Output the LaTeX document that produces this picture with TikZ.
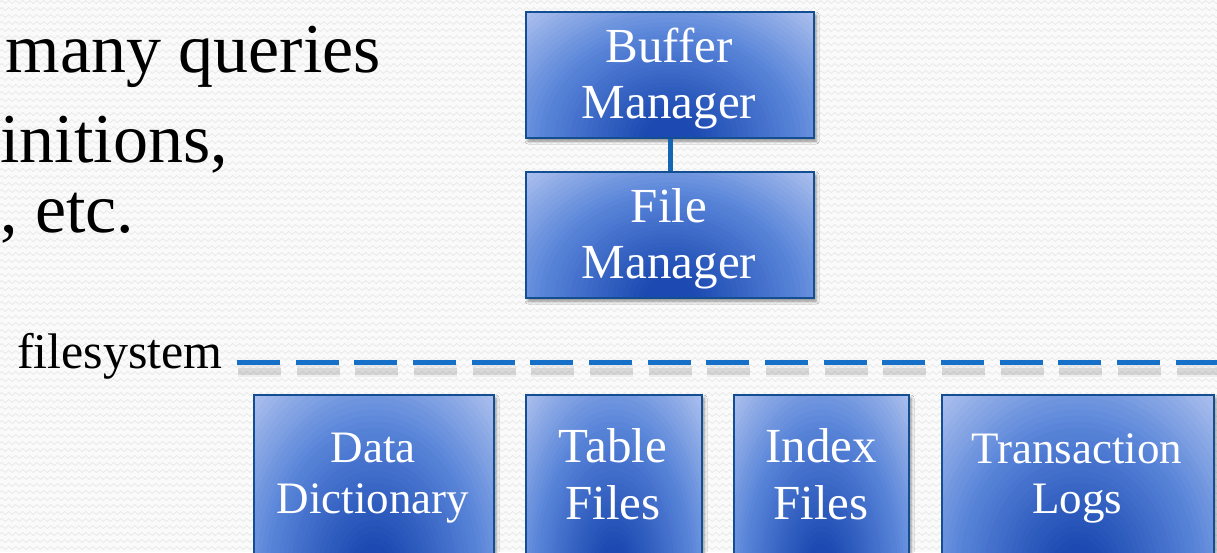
\documentclass[tikz,border=0pt]{standalone}
\usepackage{fontspec}
\setmainfont{Liberation Serif}
\usetikzlibrary{shadows.blur,decorations.pathmorphing,calc}

\definecolor{bxlight}{RGB}{172,192,238}
\definecolor{bxmid}{RGB}{88,132,216}
\definecolor{bxdark}{RGB}{28,74,178}
\definecolor{bxedge}{RGB}{20,78,146}
\definecolor{linkblue}{RGB}{22,112,200}
\definecolor{paper}{RGB}{250,250,250}
\definecolor{weave}{RGB}{232,232,232}

% glow of a storage box: nested ellipses around the bottom middle,
% dark in the centre and light towards the top corners
% #1, #2 = half axes of the outermost ellipse
\newcommand{\glowfill}[2]{%
  \fill[bxlight] (path picture bounding box.south west) rectangle (path picture bounding box.north east);
  \foreach \k in {44,43,...,1}{%
    \pgfmathsetmacro{\glowt}{\k/44}%
    \pgfmathtruncatemacro{\glowp}{min(100,max(0,(\glowt-0.56)/0.36*100))}%
    \pgfmathtruncatemacro{\glowq}{min(100,max(0,(\glowt-0.12)/0.44*100))}%
    \ifdim\glowt pt>0.56pt\relax
      \colorlet{glowtmp}{bxlight!\glowp!bxmid}%
    \else
      \colorlet{glowtmp}{bxmid!\glowq!bxdark}%
    \fi
    \fill[glowtmp] (path picture bounding box.south) ellipse ({\glowt*#1} and {\glowt*#2});
  }}

\tikzset{
  tier/.style 2 args={rectangle, draw=bxedge, line width=2.2pt, inner sep=0pt,
    anchor=north west,
    blur shadow={shadow xshift=2pt, shadow yshift=-3pt, shadow blur radius=3pt, shadow opacity=45},
    path picture={\glowfill{#1}{#2}}},
  tiertext/.style={text=white, inner sep=0pt, anchor=base},
  bodytext/.style={text=black, inner sep=0pt, font=\fontsize{70}{80}\selectfont},
  link/.style={draw=linkblue!90!black, line width=5pt},
  fsrule/.style={draw=linkblue, line width=5pt, dash pattern=on 43pt off 15.67pt},
}

\newcommand{\twolines}[4]{\fontsize{#1}{#2}\selectfont\begin{tabular}[t]{@{}c@{}}#3\\#4\end{tabular}}

\begin{document}
\begin{tikzpicture}[x=1pt, y=-1pt]
  \useasboundingbox (0,0) rectangle (1217,552);
  \clip (0,0) rectangle (1217,552);

  % woven paper background
  \fill[paper] (0,0) rectangle (1217,552);
  \foreach \r in {2,9,...,560}
    \draw[weave, line width=0.7pt, decorate,
          decoration={zigzag, segment length=7pt, amplitude=1.6pt}] (-7,\r) -- (1230,\r);

  % bullet text running in from the left
  \node[bodytext, anchor=base east] (q1) at (381,72) {many queries};
  \node[bodytext, anchor=base east] (q2) at (228,162) {finitions,};
  \node[bodytext, anchor=base west] (q3) at (0,232) {, etc.};

  % manager boxes
  \node[tier={230}{189}, minimum width=288pt, minimum height=126pt] (bm) at (525,11) {};
  \node[tier={230}{189}, minimum width=288pt, minimum height=126pt] (fm) at (525,171) {};
  \draw[link] (bm.south) -- (fm.north);

  \node[tiertext] (bm-t) at (669,62) {\twolines{49}{56}{Buffer}{Manager}};
  \node[tiertext] (fm-t) at (669,222) {\twolines{49}{56}{File}{Manager}};

  % filesystem boundary
  \node[bodytext, anchor=base east, font=\fontsize{50}{60}\selectfont] (fs) at (223,368) {filesystem};
  \coordinate (fs-a) at (237,362);
  \coordinate (fs-b) at (1240,362);
  \draw[fsrule, draw=black, opacity=0.05, line width=12pt] ($(fs-a)+(1,9)$) -- ($(fs-b)+(1,9)$);
  \draw[fsrule, draw=black, opacity=0.09, line width=7pt] ($(fs-a)+(1,9)$) -- ($(fs-b)+(1,9)$);
  \draw[fsrule] (fs-a) -- (fs-b);

  % files stored below the boundary
  \node[tier={192}{270}, minimum width=240pt, minimum height=180pt] (dd) at (253,394) {};
  \node[tier={141}{270}, minimum width=176pt, minimum height=180pt] (tf) at (525,394) {};
  \node[tier={140}{270}, minimum width=175pt, minimum height=180pt] (ix) at (733,394) {};
  \node[tier={218}{270}, minimum width=272pt, minimum height=180pt] (tl) at (941,394) {};

  \node[tiertext] (dd-t) at (373,462) {\twolines{45}{51}{Data}{Dictionary}};
  \node[tiertext] (tf-t) at (613,462) {\twolines{49}{57}{Table}{Files}};
  \node[tiertext] (ix-t) at (821,462) {\twolines{49}{57}{Index}{Files}};
  \node[tiertext] (tl-t) at (1077,463) {\twolines{45}{50}{Transaction}{Logs}};
\end{tikzpicture}
\end{document}
